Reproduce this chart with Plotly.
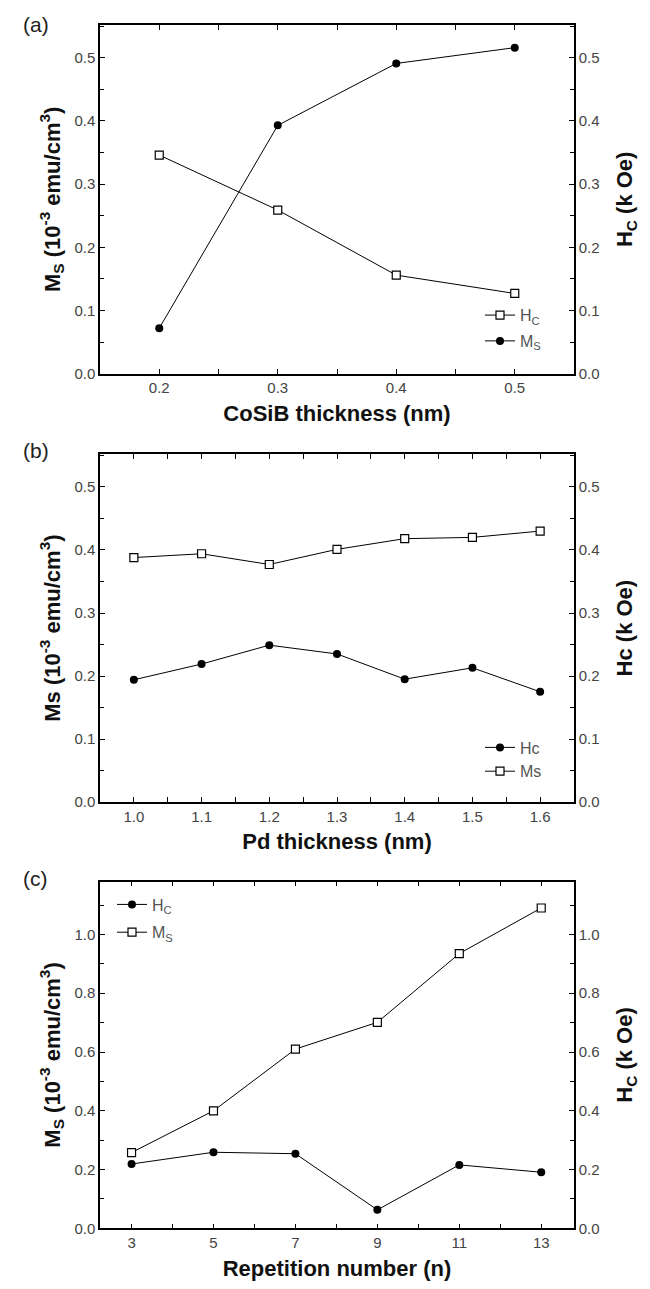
import plotly.graph_objects as go

# ---------------- data ----------------
a_x = [0.2, 0.3, 0.4, 0.5]
a_ms = [0.072, 0.393, 0.491, 0.516]
a_hc = [0.346, 0.259, 0.156, 0.127]

b_x = [1.0, 1.1, 1.2, 1.3, 1.4, 1.5, 1.6]
b_ms = [0.388, 0.394, 0.377, 0.401, 0.418, 0.420, 0.430]
b_hc = [0.194, 0.219, 0.249, 0.235, 0.195, 0.213, 0.175]

c_x = [3, 5, 7, 9, 11, 13]
c_ms = [0.258, 0.400, 0.610, 0.701, 0.935, 1.090]
c_hc = [0.219, 0.259, 0.254, 0.063, 0.216, 0.191]

W, H = 650, 1289
FONT = "Liberation Sans, Arial, sans-serif"
TICK_FONT = dict(family=FONT, size=15, color="#444444")
TITLE_FONT = dict(family=FONT, size=22, color="#111111")
LEG_FONT = dict(family=FONT, size=16, color="#555555")

XDOM = [92 / W, 566 / W]


def ydom(top, bottom):
    return [1 - bottom / H, 1 - top / H]


open_sq = dict(symbol="square", size=8, color="white", line=dict(color="black", width=1.2))
filled = dict(symbol="circle", size=8, color="black", line=dict(color="black", width=0))
LINE = dict(color="black", width=1)

fig = go.Figure()

# panel (a)
fig.add_trace(go.Scatter(x=a_x, y=a_hc, mode="lines+markers", name="H<sub>C</sub>", line=LINE,
                         marker=open_sq, xaxis="x", yaxis="y2", legend="legend", legendgroup="a1"))
fig.add_trace(go.Scatter(x=a_x, y=a_ms, mode="lines+markers", name="M<sub>S</sub>", line=LINE,
                         marker=filled, xaxis="x", yaxis="y", legend="legend", legendgroup="a2"))
# panel (b)
fig.add_trace(go.Scatter(x=b_x, y=b_hc, mode="lines+markers", name="Hc", line=LINE,
                         marker=filled, xaxis="x2", yaxis="y4", legend="legend2", legendgroup="b1"))
fig.add_trace(go.Scatter(x=b_x, y=b_ms, mode="lines+markers", name="Ms", line=LINE,
                         marker=open_sq, xaxis="x2", yaxis="y3", legend="legend2", legendgroup="b2"))
# panel (c)
fig.add_trace(go.Scatter(x=c_x, y=c_hc, mode="lines+markers", name="H<sub>C</sub>", line=LINE,
                         marker=filled, xaxis="x3", yaxis="y6", legend="legend3", legendgroup="c1"))
fig.add_trace(go.Scatter(x=c_x, y=c_ms, mode="lines+markers", name="M<sub>S</sub>", line=LINE,
                         marker=open_sq, xaxis="x3", yaxis="y5", legend="legend3", legendgroup="c2"))


def xax(rng, tick0, dtick, mdtick, fmt, title, anchor):
    return dict(domain=XDOM, range=rng, anchor=anchor, showline=True, linecolor="black", linewidth=1.5,
                mirror="allticks", ticks="inside", ticklen=5, tickwidth=1.2, tickcolor="black",
                tick0=tick0, dtick=dtick, tickformat=fmt, tickfont=TICK_FONT, showgrid=False,
                zeroline=False,
                minor=dict(ticks="inside", ticklen=4, tickwidth=1.2, tickcolor="black", dtick=mdtick,
                           tick0=tick0, showgrid=False),
                title=dict(text=title, font=TITLE_FONT, standoff=10))


def yax(dom, rng, dtick, mdtick, title, anchor, side="left", overlaying=None):
    d = dict(domain=dom, range=rng, anchor=anchor, side=side, showline=True, linecolor="black",
             linewidth=1.5, ticks="inside", ticklen=5, tickwidth=1.2, tickcolor="black",
             tick0=0, dtick=dtick, tickformat=".1f", tickfont=TICK_FONT, showgrid=False, zeroline=False,
             minor=dict(ticks="inside", ticklen=4, tickwidth=1.2, tickcolor="black", dtick=mdtick,
                        tick0=0, showgrid=False),
             title=dict(text=title, font=TITLE_FONT, standoff=8 if side == "left" else 18))
    if overlaying:
        d["overlaying"] = overlaying
    return d


DA = ydom(17, 368)
DB = ydom(449, 799)
DC = ydom(879, 1228)

MS_T = "M<sub>S</sub> (10<sup>-3</sup> emu/cm<sup>3</sup>)"
HC_T = "H<sub>C</sub> (k Oe)"

layout = dict(
    width=W, height=H, paper_bgcolor="white", plot_bgcolor="white",
    margin=dict(l=0, r=0, t=0, b=0),
    xaxis=xax([0.15, 0.55], 0, 0.1, 0.05, ".1f", "<b>CoSiB thickness (nm)</b>", "y"),
    xaxis2=xax([0.95, 1.65], 0, 0.1, 0.05, ".1f", "<b>Pd thickness (nm)</b>", "y3"),
    xaxis3=xax([2.23, 13.8], 1, 2, 1, "d", "<b>Repetition number (n)</b>", "y5"),
    yaxis=yax(DA, [0, 0.552], 0.1, 0.05, "<b>" + MS_T + "</b>", "x"),
    yaxis2=yax(DA, [0, 0.552], 0.1, 0.05, "<b>" + HC_T + "</b>", "x", side="right", overlaying="y"),
    yaxis3=yax(DB, [0, 0.552], 0.1, 0.05, "<b>Ms (10<sup>-3</sup> emu/cm<sup>3</sup>)</b>", "x2"),
    yaxis4=yax(DB, [0, 0.552], 0.1, 0.05, "<b>Hc (k Oe)</b>", "x2", side="right", overlaying="y3"),
    yaxis5=yax(DC, [0, 1.18], 0.2, 0.1, "<b>" + MS_T + "</b>", "x3"),
    yaxis6=yax(DC, [0, 1.18], 0.2, 0.1, "<b>" + HC_T + "</b>", "x3", side="right", overlaying="y5"),
    legend=dict(x=472 / W, y=1 - 292 / H, xanchor="left", yanchor="top", bgcolor="rgba(0,0,0,0)",
                font=LEG_FONT, traceorder="grouped", tracegroupgap=2, itemwidth=30),
    legend2=dict(x=472 / W, y=1 - 727 / H, xanchor="left", yanchor="top", bgcolor="rgba(0,0,0,0)",
                 font=LEG_FONT, traceorder="grouped", tracegroupgap=0, itemwidth=30),
    legend3=dict(x=104 / W, y=1 - 885 / H, xanchor="left", yanchor="top", bgcolor="rgba(0,0,0,0)",
                 font=LEG_FONT, traceorder="grouped", tracegroupgap=4, itemwidth=30),
    showlegend=True,
)
fig.update_layout(**layout)

for lab, ypx in (("(a)", 17), ("(b)", 445), ("(c)", 876)):
    fig.add_annotation(text=lab, x=13 / W, y=1 - ypx / H, xref="paper", yref="paper",
                       xanchor="left", yanchor="middle", showarrow=False,
                       font=dict(family=FONT, size=21, color="#222222"))

fig.write_html("out.html")
